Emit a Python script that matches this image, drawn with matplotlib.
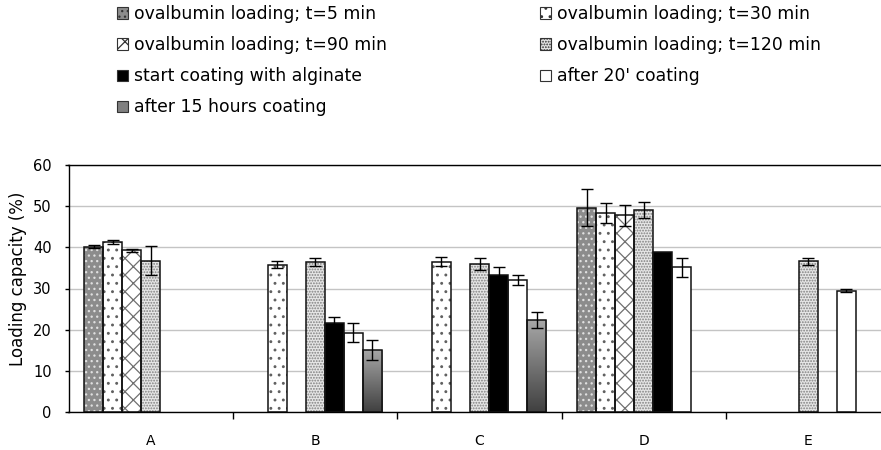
import numpy as np
import matplotlib
matplotlib.use('Agg')
from matplotlib import pyplot as plt
from matplotlib.patches import Patch
from matplotlib.colors import LinearSegmentedColormap

nan = np.nan

categories = ['A', 'B', 'C', 'D', 'E']
series_names = ['ovalbumin loading; t=5 min', 'ovalbumin loading; t=30 min',
                'ovalbumin loading; t=90 min', 'ovalbumin loading; t=120 min',
                'start coating with alginate', "after 20' coating",
                'after 15 hours coating']

t5_min = [40.2, nan, nan, 49.6, nan]
t5_err = [0.3, nan, nan, 4.5, nan]
t30_min = [41.2, 35.8, 36.5, 48.3, nan]
t30_err = [0.5, 0.9, 1.1, 2.4, nan]
t90_min = [39.3, nan, nan, 47.8, nan]
t90_err = [0.4, nan, nan, 2.6, nan]
t120_min = [36.8, 36.5, 35.9, 49.0, 36.6]
t120_err = [3.5, 1.0, 1.5, 1.9, 0.9]
start_coating = [nan, 21.5, 33.4, 38.9, nan]
start_err = [nan, 1.5, 1.8, nan, nan]
after_20 = [nan, 19.3, 32.1, 35.2, 29.5]
after_20_err = [nan, 2.4, 1.3, 2.3, 0.3]
after_15h = [nan, 15.1, 22.4, nan, nan]
after_15h_err = [nan, 2.5, 2.0, nan, nan]

values = [t5_min, t30_min, t90_min, t120_min, start_coating, after_20, after_15h]
errors = [t5_err, t30_err, t90_err, t120_err, start_err, after_20_err, after_15h_err]

# fill colour, hatch, hatch colour
styles = [('#8c8c8c', '...', '#e0e0e0'),
          ('white', '..', '#606060'),
          ('white', 'xx', '#707070'),
          ('#e6e6e6', '......', '#808080'),
          ('black', None, 'black'),
          ('white', None, 'white'),
          ('#777777', None, '#777777')]

plt.rcParams['font.family'] = 'DejaVu Sans'
plt.rcParams['hatch.linewidth'] = 0.9

fig = plt.figure(figsize=(8.81, 4.5), dpi=100)
ax = fig.add_axes([68.5 / 881, 38 / 450, 822 / 881, 247 / 450])

grad_cmap = LinearSegmentedColormap.from_list('g', ['#404040', '#a8a8a8'])
grad = np.linspace(0, 1, 256).reshape(-1, 1)

x = np.arange(len(categories))
w = 0.1156
for i in range(len(values)):
    pos = x + (i - 3) * w
    fc, hatch, hc = styles[i]
    vals = np.array(values[i], dtype=float)
    ok = ~np.isnan(vals)
    ax.bar(pos[ok], vals[ok], w, color=fc, edgecolor=hc, hatch=hatch, linewidth=0, zorder=2)
    outline = ax.bar(pos[ok], vals[ok], w, fill=False, edgecolor='#111111', linewidth=1.1, zorder=3)
    if i == 6:
        for rect in outline:
            im = ax.imshow(grad, cmap=grad_cmap, origin='lower', aspect='auto', zorder=2.5,
                           extent=[rect.get_x(), rect.get_x() + w, 0, rect.get_height()])
            im.set_clip_path(rect)
    ax.errorbar(pos, vals, yerr=errors[i], fmt='none', ecolor='black', elinewidth=1,
                capsize=4.5, capthick=1, zorder=4)

ax.set_xlim(-0.5, 4.5)
ax.set_ylim(0, 60)
ax.set_yticks(range(0, 61, 10))
ax.set_xticks(x)
ax.set_xticklabels(categories)
ax.set_xticks(np.arange(0.5, 4.5, 1), minor=True)
ax.tick_params(axis='x', which='major', length=0, pad=15.5, labelsize=10)
ax.tick_params(axis='x', which='minor', length=5, width=1, direction='out')
ax.tick_params(axis='y', length=3, width=1, direction='out', pad=9, labelsize=10.5)
ax.yaxis.grid(True, color='#c4c4c4', linewidth=1)
ax.set_axisbelow(True)
ax.spines['right'].set_visible(False)
for s in ['left', 'bottom', 'top']:
    ax.spines[s].set_color('black')
    ax.spines[s].set_linewidth(1)

ax.set_ylabel('Loading capacity (%)', fontsize=12)
ax.yaxis.set_label_coords(-0.051, 0.54)

handles = [Patch(facecolor=fc, edgecolor='#333333', hatch=h, linewidth=0.8)
           for fc, h, hc in styles]
handles[6] = Patch(facecolor='#808080', edgecolor='#333333', linewidth=0.8)

left_idx = [0, 2, 4, 6]
right_idx = [1, 3, 5]
leg_kw = dict(frameon=False, fontsize=12.4, handlelength=0.62, handleheight=0.62,
              handletextpad=0.38, labelspacing=0.76, borderpad=0, borderaxespad=0,
              loc='upper left')
fig.legend([handles[k] for k in left_idx], [series_names[k] for k in left_idx],
           bbox_to_anchor=(117 / 881, 1 - 5 / 450), **leg_kw)
fig.legend([handles[k] for k in right_idx], [series_names[k] for k in right_idx],
           bbox_to_anchor=(540 / 881, 1 - 5 / 450), **leg_kw)

fig.savefig('out.png', dpi=100)
